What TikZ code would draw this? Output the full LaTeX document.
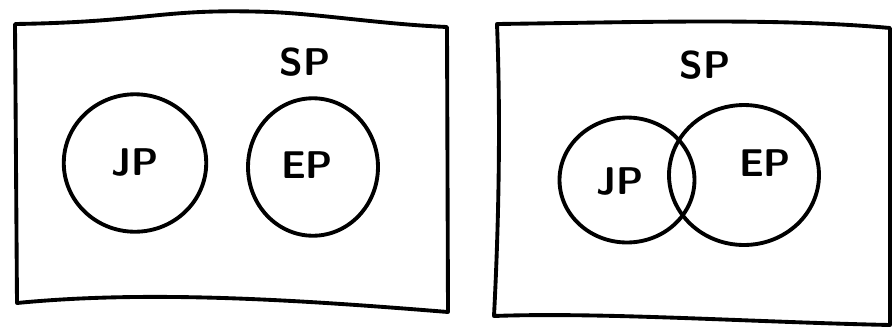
\documentclass[tikz,border=0pt]{standalone}
\usepackage{tikz}
\usetikzlibrary{shapes}
\usetikzlibrary{arrows}

\begin{document}
\begin{tikzpicture}[x=0.02cm, y=-0.02cm, line width=2.2pt, line join=round, line cap=round]

  \tikzset{set/.style = {shape=ellipse,draw,inner sep=0pt}}
  \tikzset{lbl/.style = {font=\sffamily\bfseries\fontsize{22}{26}\selectfont}}
  \useasboundingbox (0,0) rectangle (894,329);
  % frames
  \draw (15,24) .. controls (150,22) and (160,8) .. (270,12)
        .. controls (320,14) and (380,24) .. (447,27)
        -- (448,312) .. controls (300,300) and (150,290) .. (17,303) -- cycle;
  \draw (497,24) .. controls (650,22) and (780,18) .. (890,28)
        -- (890,325) .. controls (750,322) and (600,312) .. (494,316)
        .. controls (500,200) and (500,100) .. cycle;
  % sets, left
  \node[set, minimum width=2.85cm, minimum height=2.75cm] (jpA) at (135,163) {};
  \node[set, minimum width=2.6cm,  minimum height=2.75cm] (epA) at (313,167) {};
  % sets, right
  \node[set, minimum width=2.7cm,  minimum height=2.5cm]  (jpB) at (627,180) {};
  \node[set, minimum width=3.0cm,  minimum height=2.8cm]  (epB) at (744,175) {};
  % labels
  \node[lbl] (spA) at (305,62)  {SP};
  \node[lbl] (jpAl) at (jpA)    {JP};
  \node[lbl] (epAl) at (307,165) {EP};
  \node[lbl] (spB) at (705,65)  {SP};
  \node[lbl] (jpBl) at (620,182) {JP};
  \node[lbl] (epBl) at (765,163) {EP};
\end{tikzpicture}
\end{document}
